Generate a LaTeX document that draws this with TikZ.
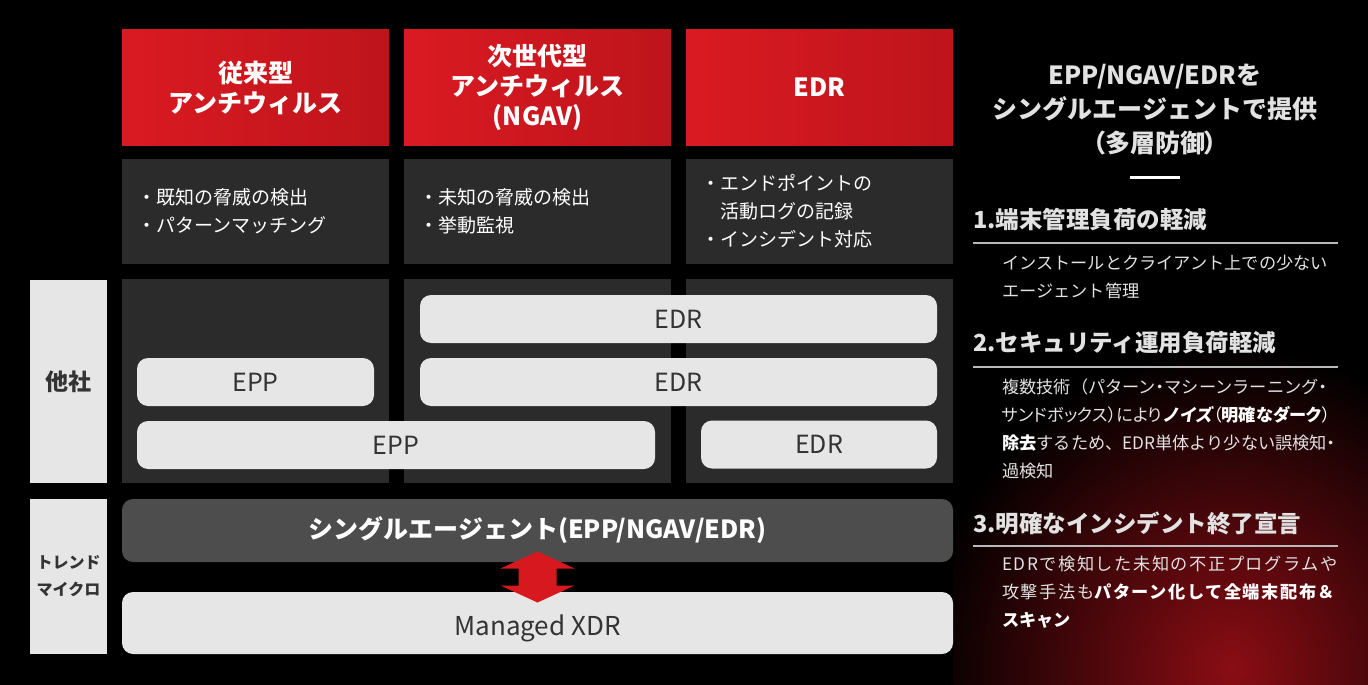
\documentclass[tikz,border=0pt]{standalone}
\usepackage{fontspec}
\setmainfont{Noto Sans CJK JP}
\newfontfamily\paltfont{Noto Sans CJK JP}[RawFeature=+palt]
\newfontfamily\slantfont{Noto Sans CJK JP}[FakeSlant=0.15]
\newfontfamily\widefont{Noto Sans CJK JP}[LetterSpace=9]
\usetikzlibrary{positioning,calc}

\definecolor{hdred}{HTML}{DA1A22}
\definecolor{hdreddk}{HTML}{BE141B}
\definecolor{panel}{HTML}{2B2B2B}
\definecolor{pillgray}{HTML}{E6E6E6}
\definecolor{pilltext}{HTML}{333333}
\definecolor{agentgray}{HTML}{4D4D4D}
\definecolor{arrowred}{HTML}{D7181F}
\definecolor{glowred}{HTML}{8A0D14}
\definecolor{panetext}{HTML}{E2E2E2}

\newcommand{\plp}{{\paltfont （}}
\newcommand{\prp}{{\paltfont ）}}
\newcommand{\pdot}{{\paltfont ・}}

\begin{document}
\begin{tikzpicture}[x=1pt,y=-1pt,
  head/.style={left color=hdred, right color=hdreddk, text=white, minimum width=267pt,
    minimum height=115pt, inner sep=0pt, align=center,
    font=\fontsize{25}{30}\selectfont\bfseries},
  desc/.style={fill=panel, minimum width=267pt, minimum height=105pt, inner sep=0pt},
  well/.style={fill=panel, minimum width=267pt, minimum height=204pt, inner sep=0pt},
  bullets/.style={text=white, align=left, inner sep=0pt, font=\fontsize{19}{28}\selectfont},
  pill/.style={fill=pillgray, rounded corners=11pt, text=pilltext, inner sep=0pt,
    minimum height=48pt, font=\fontsize{25}{30}\selectfont},
  side/.style={fill=pillgray, text=pilltext, inner sep=0pt, minimum width=77pt, align=center},
  heading/.style={anchor=west, inner sep=0pt, text=panetext, font=\fontsize{23.5}{28}\selectfont\bfseries},
  body/.style={anchor=west, inner sep=0pt, text=panetext, align=left,
    font=\fontsize{17.2}{28}\selectfont},
  rule/.style={draw=gray!55!white, line width=1.2pt}
]
% background and glow
\fill[black] (0,0) rectangle (1368,685);
\begin{scope}
\clip (953,0) rectangle (1368,685);
\shade[inner color=glowred, outer color=black] (1232,668) ellipse (310 and 320);
\end{scope}

% column headers
\node[head] (hlegacy) at (255.5,87.5) {従来型\\アンチウィルス};
\node[head] (hngav) at (537.5,87.5) {次世代型\\アンチウィルス\\(NGAV)};
\node[head] (hedr) at (819.5,87.5) {EDR};

% descriptions
\node[desc] (dlegacy) at (255.5,211.5) {};
\node[desc] (dngav) at (537.5,211.5) {};
\node[desc] (dedr) at (819.5,211.5) {};
\node[bullets, right=15pt of dlegacy.west] (tlegacy) {・既知の脅威の検出\\・パターンマッチング};
\node[bullets, right=15pt of dngav.west] (tngav) {・未知の脅威の検出\\・挙動監視};
\node[bullets, right=15pt of dedr.west] (tedr) {・エンドポイントの\\\hspace*{1em}活動ログの記録\\・インシデント対応};

% other vendors
\node[side, minimum height=203pt, font=\fontsize{23}{28}\selectfont\bfseries] (others) at (68.5,381.5) {他社};
\node[well] (wlegacy) at (255.5,381) {};
\node[well] (wngav) at (537.5,381) {};
\node[well] (wedr) at (819.5,381) {};
\node[pill, minimum width=517pt] (edrtop) at (678.5,319) {EDR};
\node[pill, minimum width=237pt] (eppsmall) at (255.5,382) {EPP};
\node[pill, minimum width=517pt] (edrmid) at (678.5,382) {EDR};
\node[pill, minimum width=518pt] (eppwide) at (396,445) {EPP};
\node[pill, minimum width=236pt] (edrsmall) at (819,444.5) {EDR};

% trend micro
\node[side, minimum height=155pt, font=\fontsize{16}{27}\selectfont\bfseries] (trend) at (68.5,576.5) {トレンド\\マイクロ};
\node[fill=agentgray, rounded corners=11pt, minimum width=831pt, minimum height=63pt, inner sep=0pt,
  text=white, font=\fontsize{25}{30}\selectfont\bfseries] (agent) at (537.5,530.5) {シングルエージェント(EPP/NGAV/EDR)};
\node[pill, minimum width=831pt, minimum height=62pt, font=\fontsize{26}{30}\selectfont] (mxdr) at (537.5,623) {\raisebox{-12pt}[0pt][0pt]{Managed XDR}};
\coordinate (swap) at ($(agent.south)!0.5!(mxdr.north)$);
\fill[arrowred] ($(swap)+(0,-25.5)$) -- ++(37,17) -- ++(-18,0) -- ++(0,17) -- ++(18,0)
  -- ++(-37,17) -- ++(-37,-17) -- ++(18,0) -- ++(0,-17) -- ++(-18,0) -- cycle;

% right panel
\node[align=center, inner sep=0pt, text=panetext, font=\fontsize{25}{34}\selectfont\bfseries] (title) at (1155,110)
  {EPP/NGAV/EDRを\\シングルエージェントで提供\\\plp 多層防御\prp};
\draw[white, line width=3pt] (1130,177) -- (1180,177);

\node[heading] (pt1) at (973,220) {1.端末管理負荷の軽減};
\draw[rule] ($(pt1.west)+(0,23)$) -- ++(365,0);
\node[body] (pt1body) at (1002,277) {インストールとクライアント上での少ない\\エージェント管理};

\node[heading] (pt2) at (973,343) {2.セキュリティ運用負荷軽減};
\draw[rule] ($(pt2.west)+(0,24)$) -- ++(365,0);
\node[body] (pt2body) at (1002,428.5) {複数技術（パターン\pdot マシーンラーニング\pdot\\
  {\paltfont サンドボックス）により\textcolor{white}{{\slantfont\bfseries ノイズ}（\textbf{明確なダーク}）}}\\
  \textcolor{white}{\textbf{除去}}するため、EDR単体より少ない誤検知\pdot\\過検知};

\node[heading] (pt3) at (973,523) {3.明確なインシデント終了宣言};
\draw[rule] ($(pt3.west)+(0,23)$) -- ++(365,0);
\node[body] (pt3body) at (1002,592) {{\widefont EDRで検知した未知の不正プログラムや}\\
  {\widefont 攻撃手法も\textcolor{white}{\bfseries パターン化して全端末配布＆}}\\\textcolor{white}{\textbf{スキャン}}};
\end{tikzpicture}
\end{document}
